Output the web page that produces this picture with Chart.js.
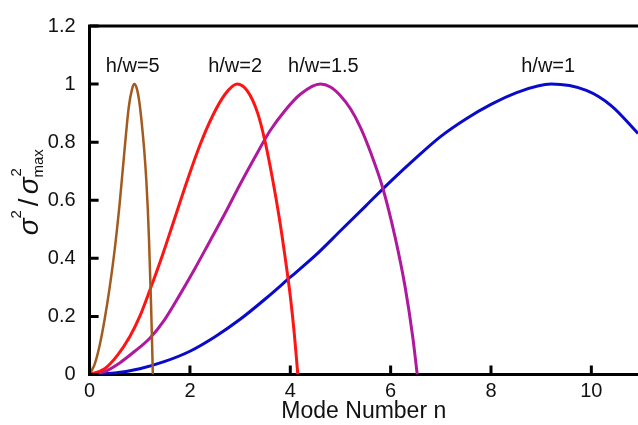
<!DOCTYPE html>
<html>
<head>
<meta charset="utf-8">
<script src="https://cdn.jsdelivr.net/npm/chart.js@4.4.1/dist/chart.umd.min.js"></script>
<style>
    html, body { margin: 0; padding: 0; background: #fff; }
    #wrap { width: 638px; height: 425px; }
</style>
</head>
<body>
<div id="wrap"><canvas id="chart" width="638" height="425"></canvas></div>
<script>

// h/w = 5
const hw5X = [0, 0.1, 0.2, 0.3, 0.4, 0.5, 0.6, 0.7, 0.78, 0.85, 0.89, 0.94, 0.99, 1.04, 1.09, 1.13, 1.16, 1.185, 1.205, 1.225, 1.245, 1.26]
const hw5Y = [0, 0.035, 0.10, 0.19, 0.30, 0.43, 0.59, 0.78, 0.92, 0.985, 1.0, 0.985, 0.94, 0.865, 0.77, 0.67, 0.57, 0.46, 0.35, 0.24, 0.11, 0]

// h/w = 2
const hw2X = [0, 0.3, 0.55, 0.8, 1.0, 1.2, 1.45, 1.7, 1.95, 2.2, 2.45, 2.7, 2.94, 3.15, 3.35, 3.5, 3.65, 3.78, 3.9, 4.0, 4.08, 4.15]
const hw2Y = [0, 0.02, 0.065, 0.13, 0.20, 0.29, 0.41, 0.54, 0.67, 0.79, 0.89, 0.965, 1.0, 0.975, 0.90, 0.80, 0.67, 0.54, 0.40, 0.27, 0.14, 0]

// h/w = 1.5
const hw15X = [0, 0.3, 0.6, 0.9, 1.2, 1.5, 1.8, 2.1, 2.4, 2.7, 3.0, 3.3, 3.6, 3.9, 4.2, 4.6, 4.8, 5.0, 5.2, 5.4, 5.6, 5.84, 6.09, 6.29, 6.44, 6.53]
const hw15Y = [0, 0.01, 0.04, 0.08, 0.125, 0.19, 0.275, 0.365, 0.46, 0.555, 0.655, 0.75, 0.84, 0.91, 0.965, 1.0, 0.99, 0.96, 0.915, 0.85, 0.765, 0.644, 0.472, 0.30, 0.13, 0]

// h/w = 1
const hw1X = [0, 0.5, 1.0, 1.5, 2.0, 2.5, 3.0, 3.5, 4.0, 4.5, 5.0, 5.5, 6.0, 6.5, 7.0, 7.5, 8.0, 8.5, 9.2, 9.9, 10.4, 10.93]
const hw1Y = [0, 0.005, 0.02, 0.045, 0.08, 0.13, 0.19, 0.26, 0.335, 0.41, 0.495, 0.58, 0.665, 0.745, 0.82, 0.88, 0.93, 0.97, 1.0, 0.978, 0.925, 0.83]

const xTicks = [0, 2, 4, 6, 8, 10]
const yTicks = [0, 0.2, 0.4, 0.6, 0.8, 1, 1.2]

const curveLabels = ['h/w=5', 'h/w=2', 'h/w=1.5', 'h/w=1']
const curveLabelX = [0.86, 2.90, 4.66, 9.14]
const curveLabelY = [1.06, 1.06, 1.06, 1.06]

const FONT = 'Liberation Sans, Arial, Helvetica, sans-serif'

function pts(xs, ys) {
    return xs.map((x, i) => ({ x: x, y: ys[i] }))
}

function line(data, color, width) {
    return {
        data: data,
        borderColor: color,
        borderWidth: width,
        pointRadius: 0,
        showLine: true,
        fill: false,
        cubicInterpolationMode: 'monotone'
    }
}

// frame on top, inward ticks, y title and the curve labels
const framePlugin = {
    id: 'frame',
    afterDraw(chart) {
        const ctx = chart.ctx
        const area = chart.chartArea
        const xs = chart.scales.x
        const ys = chart.scales.y
        ctx.save()

        ctx.strokeStyle = '#000'
        ctx.lineWidth = 3
        ctx.beginPath()
        ctx.moveTo(area.left - 1.5, area.top)
        ctx.lineTo(area.right + 2, area.top)
        ctx.stroke()

        ctx.beginPath()
        yTicks.forEach(v => {
            const py = ys.getPixelForValue(v)
            ctx.moveTo(area.left, py)
            ctx.lineTo(area.left + 9, py)
        })
        xTicks.forEach(v => {
            const px = xs.getPixelForValue(v)
            ctx.moveTo(px, area.bottom)
            ctx.lineTo(px, area.bottom - 9)
        })
        ctx.stroke()

        // curve labels
        ctx.fillStyle = '#111'
        ctx.font = '20px ' + FONT
        ctx.textAlign = 'center'
        ctx.textBaseline = 'middle'
        curveLabels.forEach((t, i) => {
            ctx.fillText(t, xs.getPixelForValue(curveLabelX[i]), ys.getPixelForValue(curveLabelY[i]))
        })

        // y title: sigma^2 / sigma^2_max
        const sig = 'italic 28px ' + FONT
        const small = '15px ' + FONT
        const slash = '28px ' + FONT
        ctx.font = sig
        const wSig = ctx.measureText('σ').width
        ctx.font = small
        const w2 = ctx.measureText('2').width
        const wMax = ctx.measureText('max').width
        ctx.font = slash
        const wSl = ctx.measureText('/').width
        const total = wSig + w2 + 4 + wSl + 4 + wSig + wMax

        ctx.translate(38, (area.top + area.bottom) / 2 - 8)
        ctx.rotate(-Math.PI / 2)
        ctx.textAlign = 'left'
        ctx.textBaseline = 'alphabetic'
        let x = -total / 2
        ctx.font = sig
        ctx.fillText('σ', x, 0)
        x += wSig
        ctx.font = small
        ctx.fillText('2', x, -17)
        x += w2 + 4
        ctx.font = slash
        ctx.fillText('/', x, 0)
        x += wSl + 4
        ctx.font = sig
        ctx.fillText('σ', x, 0)
        x += wSig
        ctx.font = small
        ctx.fillText('2', x + 1, -17)
        ctx.fillText('max', x, 5)

        ctx.restore()
    }
}

const chart = new Chart(document.getElementById('chart'), {
    type: 'scatter',
    data: {
        datasets: [
            line(pts(hw5X, hw5Y), '#A35A1E', 2.5),
            line(pts(hw2X, hw2Y), '#FF1414', 3),
            line(pts(hw15X, hw15Y), '#B0189E', 3),
            line(pts(hw1X, hw1Y), '#0A0ACC', 3)
        ]
    },
    options: {
        responsive: false,
        animation: false,
        layout: { padding: { top: 24, right: 0, bottom: 0, left: 0 } },
        plugins: {
            legend: { display: false },
            tooltip: { enabled: false }
        },
        scales: {
            x: {
                type: 'linear',
                min: 0,
                max: 10.93,
                grid: { display: false, drawTicks: false },
                border: { display: true, color: '#000', width: 3 },
                afterBuildTicks: s => { s.ticks = xTicks.map(v => ({ value: v })) },
                afterFit: s => { s.height = 50.5 },
                ticks: {
                    color: '#111',
                    font: { family: FONT, size: 20 },
                    padding: 5,
                    maxRotation: 0
                },
                title: {
                    display: true,
                    text: 'Mode Number n',
                    color: '#111',
                    font: { family: FONT, size: 23 },
                    padding: { top: 0, bottom: 0 }
                }
            },
            y: {
                type: 'linear',
                min: 0,
                max: 1.2,
                grid: { display: false, drawTicks: false },
                border: { display: true, color: '#000', width: 3 },
                afterBuildTicks: s => { s.ticks = yTicks.map(v => ({ value: v })) },
                afterFit: s => { s.width = 89.6 },
                ticks: {
                    color: '#111',
                    font: { family: FONT, size: 20 },
                    padding: 14,
                    callback: v => String(+v.toFixed(1))
                }
            }
        }
    },
    plugins: [framePlugin]
})
</script>
</body>
</html>
